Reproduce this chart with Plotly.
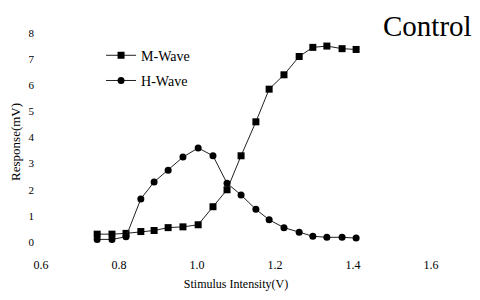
import plotly.graph_objects as go

stimulus = [0.744, 0.782, 0.818, 0.856, 0.890, 0.926, 0.964, 1.003, 1.041, 1.077,
            1.113, 1.151, 1.185, 1.223, 1.262, 1.297, 1.333, 1.372, 1.408]
m_wave = [0.30, 0.30, 0.33, 0.40, 0.44, 0.55, 0.58, 0.66, 1.35, 2.00,
          3.30, 4.60, 5.85, 6.40, 7.10, 7.45, 7.50, 7.40, 7.37]
h_wave = [0.10, 0.10, 0.20, 1.65, 2.30, 2.75, 3.25, 3.60, 3.30, 2.25,
          1.80, 1.25, 0.85, 0.55, 0.37, 0.22, 0.18, 0.18, 0.15]

x_ticks = [0.6, 0.8, 1.0, 1.2, 1.4, 1.6]
x_tick_text = ["0.6", "0.8", "1.0", "1.2", "1.4", "1.6"]
y_ticks = [0, 1, 2, 3, 4, 5, 6, 7, 8]

FONT = "Liberation Serif, Times New Roman, serif"

fig = go.Figure()
fig.add_trace(go.Scatter(
    x=stimulus, y=m_wave, name="M-Wave", mode="lines+markers",
    legendgroup="m",
    line=dict(color="#222", width=1),
    marker=dict(symbol="square", size=7, color="black"),
    cliponaxis=False,
))
fig.add_trace(go.Scatter(
    x=stimulus, y=h_wave, name="H-Wave", mode="lines+markers",
    legendgroup="h",
    line=dict(color="#222", width=1),
    marker=dict(symbol="circle", size=7, color="black"),
    cliponaxis=False,
))

fig.update_layout(
    width=480, height=300,
    margin=dict(l=41, r=49, t=33, b=48),
    paper_bgcolor="white", plot_bgcolor="white",
    font=dict(family=FONT, color="black", size=12),
    showlegend=True,
    legend=dict(x=0.154, y=0.968, xanchor="left", yanchor="top",
                bgcolor="rgba(0,0,0,0)", font=dict(family=FONT, size=14),
                itemwidth=30, traceorder="grouped", tracegroupgap=4),
    xaxis=dict(range=[0.6, 1.6], tickvals=x_ticks, ticktext=x_tick_text,
               showgrid=False, zeroline=False, showline=False,
               ticks="", ticklabelstandoff=14,
               tickfont=dict(family=FONT, size=12),
               title=dict(text="Stimulus Intensity(V)", standoff=8,
                          font=dict(family=FONT, size=12))),
    yaxis=dict(range=[0, 8], tickvals=y_ticks,
               showgrid=False, zeroline=False, showline=False,
               ticks="", ticklabelstandoff=6,
               tickfont=dict(family=FONT, size=11)),
    annotations=[
        dict(text="Control", xref="paper", yref="paper", x=0.99, y=1.032,
             xanchor="center", yanchor="middle", showarrow=False,
             font=dict(family=FONT, size=29)),
        dict(text="Response(mV)", xref="paper", yref="paper", x=-0.064, y=0.479,
             xanchor="center", yanchor="middle", textangle=-90, showarrow=False,
             font=dict(family=FONT, size=13)),
    ],
)

fig.write_html(
    "out.html",
    config={"displayModeBar": False},
    post_script="document.body.style.margin='0';document.body.style.overflow='hidden';",
)
